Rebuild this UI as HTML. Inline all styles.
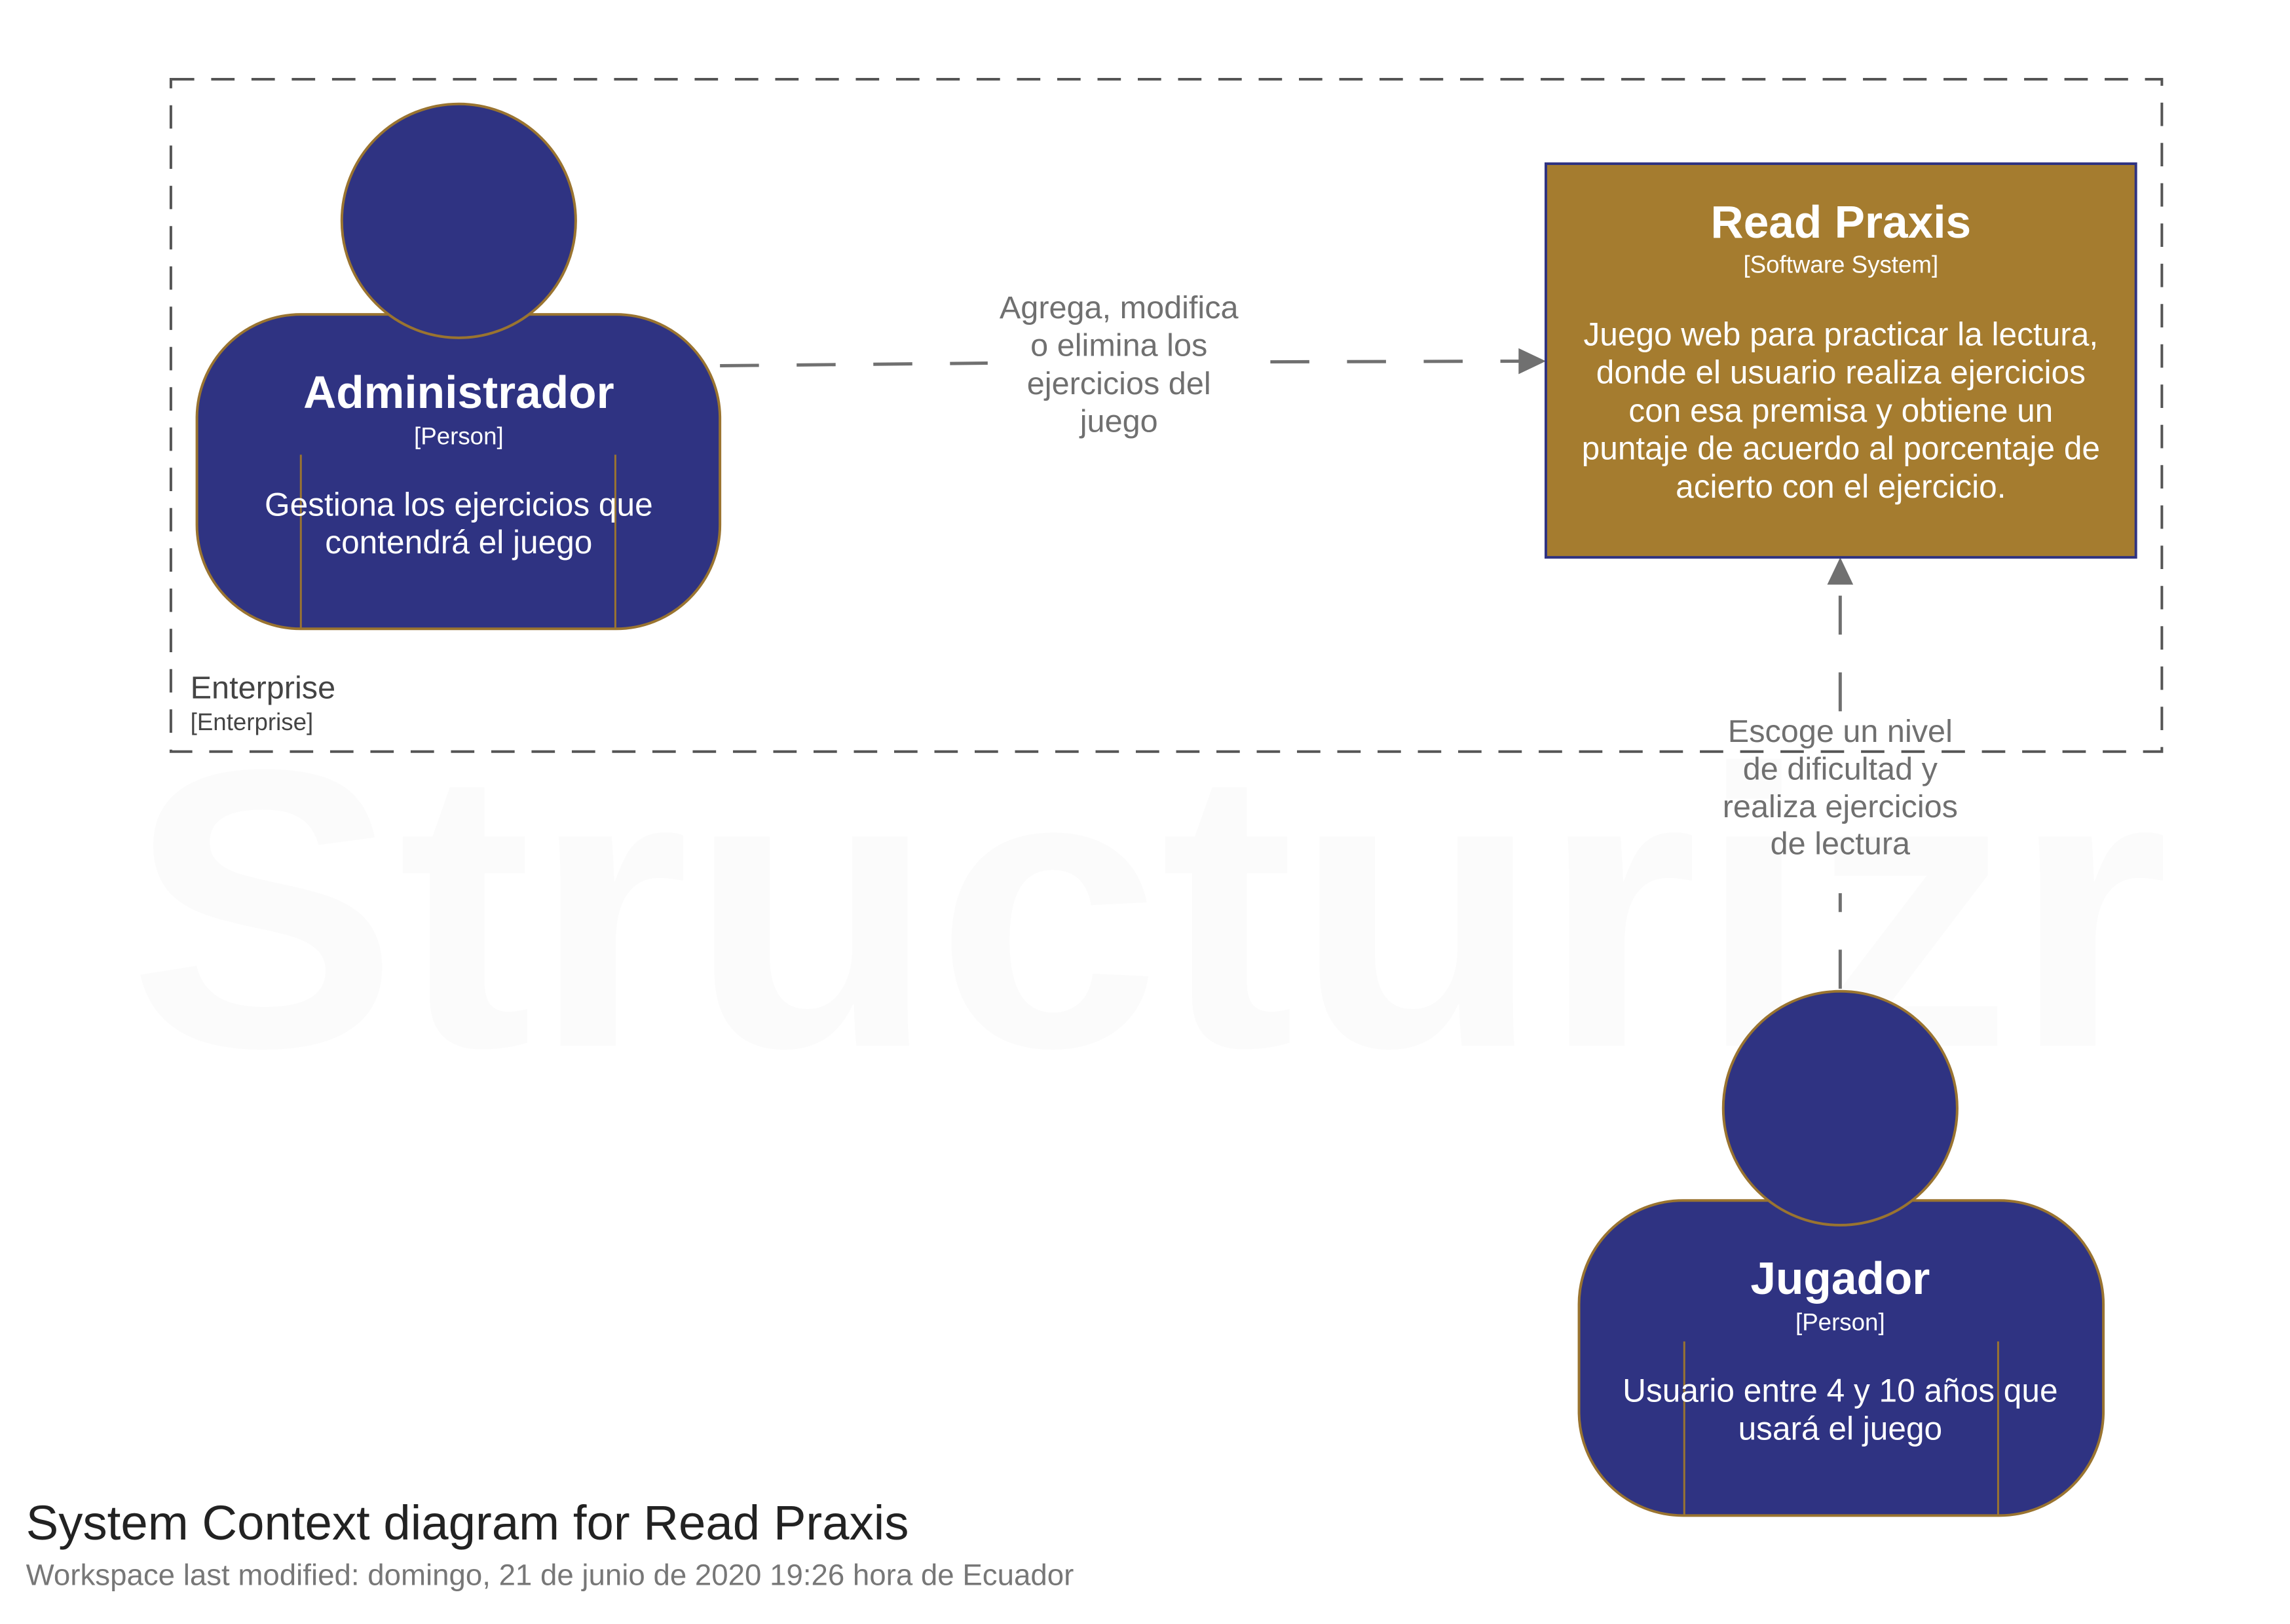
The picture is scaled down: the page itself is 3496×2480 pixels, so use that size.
<!DOCTYPE html>
<html><head><meta charset="utf-8"><style>
html,body{margin:0;padding:0;background:#fff;}
svg{display:block;}
text{font-family:"Liberation Sans",sans-serif;}
</style></head><body>
<svg width="3496" height="2480" viewBox="0 0 3496 2480" xmlns="http://www.w3.org/2000/svg">
<rect width="3496" height="2480" fill="#fff"/>
<g transform="scale(0.992)">
<text x="198" y="1610" font-size="610" font-weight="bold" fill="#fbfbfb" textLength="3140" lengthAdjust="spacingAndGlyphs">Structurizr</text>
<rect x="263" y="122" width="3064" height="1035" fill="none" stroke="#555" stroke-width="4" stroke-dasharray="36,26"/>
<text x="293" y="1075" font-size="49" fill="#444">Enterprise</text>
<text x="293" y="1124" font-size="37" fill="#444">[Enterprise]</text>

<path d="M1108 563 L1520 559 M1955 557 L2340 556" stroke="#707070" stroke-width="5" stroke-dasharray="60,58" fill="none"/>
<polygon points="2379,556 2337,536 2337,576" fill="#707070"/>
<g font-size="49" fill="#707070" text-anchor="middle">
<text x="1722" y="490">Agrega, modifica</text>
<text x="1722" y="548">o elimina los</text>
<text x="1722" y="607">ejercicios del</text>
<text x="1722" y="665">juego</text>
</g>
<path d="M2832 1522 L2832 1375 M2832 1095 L2832 900" stroke="#707070" stroke-width="5" stroke-dasharray="60,58" fill="none"/>
<polygon points="2832,858 2812,900 2852,900" fill="#707070"/>
<g font-size="49" fill="#707070" text-anchor="middle">
<text x="2832" y="1142">Escoge un nivel</text>
<text x="2832" y="1200">de dificultad y</text>
<text x="2832" y="1258">realiza ejercicios</text>
<text x="2832" y="1315">de lectura</text>
</g>

<rect x="2379" y="252" width="908" height="606" fill="#a57c2f" stroke="#2f3382" stroke-width="4"/>
<g fill="#fff" text-anchor="middle">
<text x="2833" y="366" font-size="70" font-weight="bold">Read Praxis</text>
<text x="2833" y="420" font-size="37">[Software System]</text>
<g font-size="50">
<text x="2833" y="532">Juego web para practicar la lectura,</text>
<text x="2833" y="590">donde el usuario realiza ejercicios</text>
<text x="2833" y="649">con esa premisa y obtiene un</text>
<text x="2833" y="707">puntaje de acuerdo al porcentaje de</text>
<text x="2833" y="766">acierto con el ejercicio.</text>
</g></g>

<rect x="303" y="484" width="805" height="484" rx="160" fill="#2f3382" stroke="#9a7430" stroke-width="4"/>
<circle cx="706" cy="340" r="180" fill="#2f3382" stroke="#9a7430" stroke-width="4"/>
<path d="M463 700 V968 M947 700 V968" stroke="#9a7430" stroke-width="3"/>
<g fill="#fff" text-anchor="middle">
<text x="706" y="628" font-size="70" font-weight="bold">Administrador</text>
<text x="706" y="684" font-size="37">[Person]</text>
<text x="706" y="794" font-size="50">Gestiona los ejercicios que</text>
<text x="706" y="852" font-size="50">contendrá el juego</text>
</g>

<rect x="2430" y="1848" width="807" height="485" rx="160" fill="#2f3382" stroke="#9a7430" stroke-width="4"/>
<circle cx="2832" cy="1706" r="180" fill="#2f3382" stroke="#9a7430" stroke-width="4"/>
<path d="M2592 2065 V2333 M3075 2065 V2333" stroke="#9a7430" stroke-width="3"/>
<g fill="#fff" text-anchor="middle">
<text x="2832" y="1992" font-size="70" font-weight="bold">Jugador</text>
<text x="2832" y="2048" font-size="37">[Person]</text>
<text x="2832" y="2158" font-size="50">Usuario entre 4 y 10 años que</text>
<text x="2832" y="2216" font-size="50">usará el juego</text>
</g>

<text x="40" y="2370" font-size="75" fill="#222">System Context diagram for Read Praxis</text>
<text x="40" y="2440" font-size="46" fill="#777">Workspace last modified: domingo, 21 de junio de 2020 19:26 hora de Ecuador</text>
</g>
</svg>
</body></html>
